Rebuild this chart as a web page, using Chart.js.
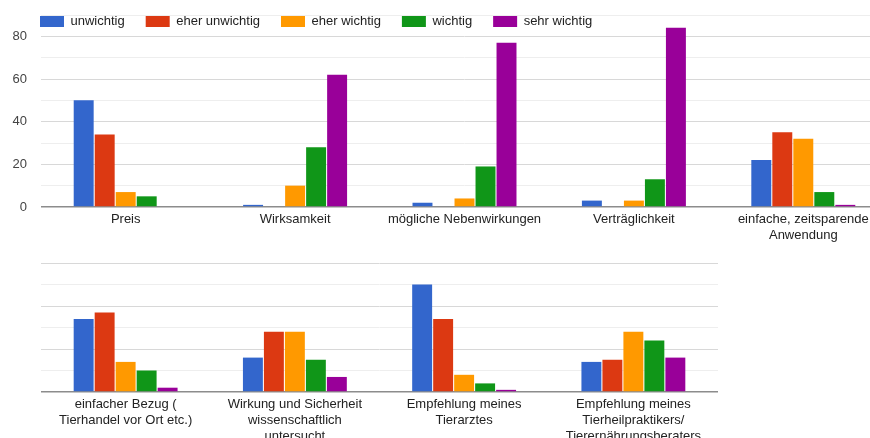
<!DOCTYPE html>
<html>
<head>
<meta charset="utf-8">
<script src="https://cdn.jsdelivr.net/npm/chart.js"></script>
<style>
  html, body { margin: 0; padding: 0; background: #fff; overflow: hidden; }
  #wrap { position: relative; width: 870px; height: 438px; overflow: hidden; }
  #topChart { position: absolute; left: 0; top: 0; }
  #bottomChart { position: absolute; left: 0; top: 248px; }
</style>
</head>
<body>
<div id="wrap">
  <canvas id="topChart" width="890" height="250" style="width:890px;height:250px"></canvas>
  <canvas id="bottomChart" width="720" height="190" style="width:720px;height:190px"></canvas>
</div>
<script>
var seriesNames = ['unwichtig', 'eher unwichtig', 'eher wichtig', 'wichtig', 'sehr wichtig'];
var seriesColors = ['#3366cc', '#dc3912', '#ff9900', '#109618', '#990099'];

var topCategories = ['Preis', 'Wirksamkeit', 'mögliche Nebenwirkungen', 'Verträglichkeit', ['einfache, zeitsparende', 'Anwendung']];
var unwichtigTop = [50, 1, 2, 3, 22];
var eherUnwichtigTop = [34, 0, 0, 0, 35];
var eherWichtigTop = [7, 10, 4, 3, 32];
var wichtigTop = [5, 28, 19, 13, 7];
var sehrWichtigTop = [0, 62, 77, 84, 1];

var bottomCategories = [
  ['einfacher Bezug (', 'Tierhandel vor Ort etc.)'],
  ['Wirkung und Sicherheit', 'wissenschaftlich', 'untersucht'],
  ['Empfehlung meines', 'Tierarztes'],
  ['Empfehlung meines', 'Tierheilpraktikers/', 'Tierernährungsberaters']
];
var unwichtigBottom = [34, 16, 50, 14];
var eherUnwichtigBottom = [37, 28, 34, 15];
var eherWichtigBottom = [14, 28, 8, 28];
var wichtigBottom = [10, 15, 4, 24];
var sehrWichtigBottom = [2, 7, 1, 16];

var yTicks = [0, 20, 40, 60, 80];

var fontFamily = 'Arial, "Liberation Sans", sans-serif';
Chart.defaults.font.family = fontFamily;
Chart.defaults.animation = false;

function makeDatasets(rows) {
  return rows.map(function(vals, i) {
    return {
      label: seriesNames[i],
      data: vals,
      backgroundColor: seriesColors[i],
      borderWidth: 0,
      categoryPercentage: 0.62,
      barPercentage: 0.95
    };
  });
}

function gridColor(ctx) {
  var v = ctx.tick.value;
  if (v === 0) return '#8c8c8c';
  return v % 20 === 0 ? '#d8d8d8' : '#eeeeee';
}

// the legend takes no room: it is drawn over the top of the plot, left aligned
var legendShift = {
  id: 'legendShift',
  beforeLayout: function(chart) {
    var lg = chart.legend;
    if (lg && !lg._patched) {
      var fit = lg.fit;
      lg.fit = function() {
        fit.call(this);
        this.height = 0;
      };
      lg._patched = true;
    }
  },
  afterLayout: function(chart) {
    var lg = chart.legend;
    lg.left = 40 - 21;
    lg.right = chart.width;
    lg.top = -6;
    lg.bottom = 40;
  }
};

function xScale(height) {
  return {
    grid: { display: false, drawTicks: false },
    border: { display: false },
    ticks: {
      color: '#222',
      padding: 4,
      maxRotation: 0,
      autoSkip: false,
      font: { size: 13, lineHeight: '16px' }
    },
    afterFit: function(scale) { scale.height = height; }
  };
}

function yScale(max, showLabels) {
  return {
    min: 0,
    max: max,
    border: { display: false },
    grid: { color: gridColor, lineWidth: function(ctx) { return ctx.tick.value === 0 ? 1.5 : 1; }, drawTicks: false },
    ticks: {
      display: showLabels,
      stepSize: 10,
      color: '#444',
      padding: 14,
      font: { size: 13 },
      callback: function(v) { return yTicks.indexOf(v) >= 0 ? v : ''; }
    },
    afterFit: function(scale) {
      scale.width = 41;
      scale.paddingTop = 0;
      scale.paddingBottom = 0;
    }
  };
}

var topChart = new Chart(document.getElementById('topChart'), {
  type: 'bar',
  data: {
    labels: topCategories,
    datasets: makeDatasets([unwichtigTop, eherUnwichtigTop, eherWichtigTop, wichtigTop, sehrWichtigTop])
  },
  options: {
    responsive: false,
    layout: { padding: { top: 15, right: 2, left: 0, bottom: 0 } },
    plugins: {
      legend: {
        position: 'top',
        align: 'start',
        labels: { boxWidth: 24, boxHeight: 11, padding: 21, color: '#222', font: { size: 13 } }
      },
      tooltip: { enabled: false }
    },
    scales: {
      x: xScale(43),
      y: yScale(90, true)
    }
  },
  plugins: [legendShift]
});

var bottomChart = new Chart(document.getElementById('bottomChart'), {
  type: 'bar',
  data: {
    labels: bottomCategories,
    datasets: makeDatasets([unwichtigBottom, eherUnwichtigBottom, eherWichtigBottom, wichtigBottom, sehrWichtigBottom])
  },
  options: {
    responsive: false,
    layout: { padding: { top: 15, right: 2, left: 0, bottom: 0 } },
    plugins: {
      legend: { display: false },
      tooltip: { enabled: false }
    },
    scales: {
      x: xScale(46),
      y: yScale(60, false)
    }
  }
});
</script>
</body>
</html>
